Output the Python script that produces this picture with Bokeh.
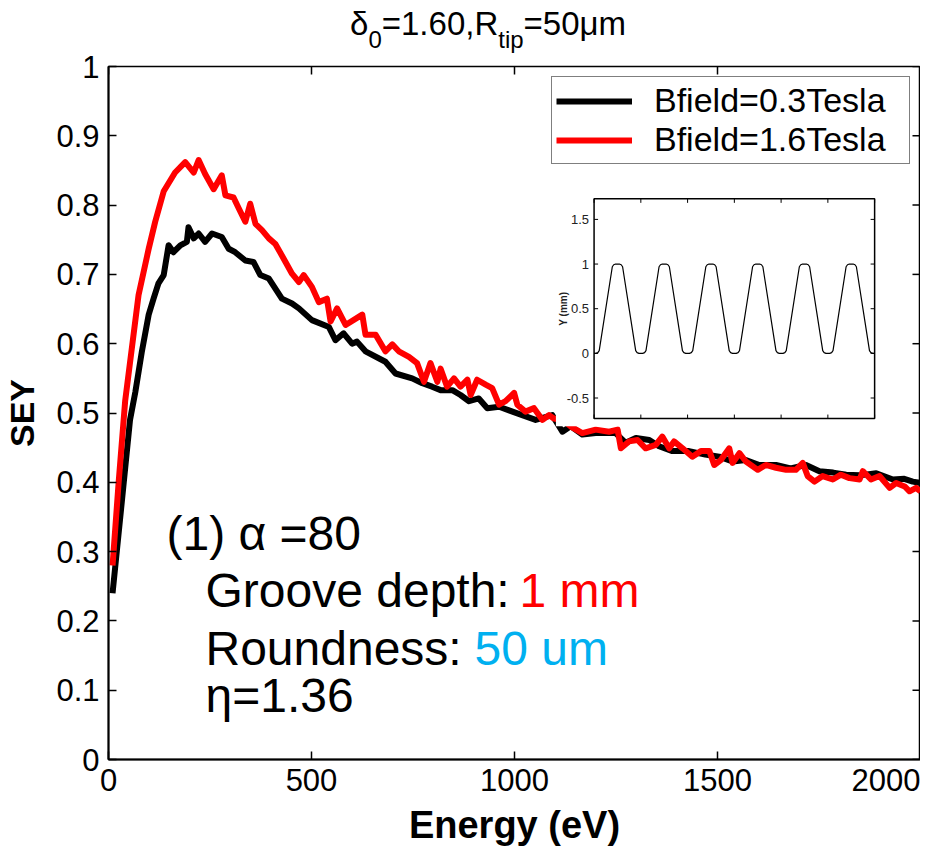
import math
from bokeh.plotting import figure
from bokeh.layouts import column
from bokeh.models import Range1d, FixedTicker, Label, Legend, LegendItem, Div
from bokeh.core.properties import value
from bokeh.embed import file_html
from bokeh.resources import INLINE

# ---------------- data ----------------
energy_03 = [10, 33, 53, 66, 82, 99, 111, 123, 136, 148, 160, 177, 193, 197, 210, 222, 238, 255, 279, 296,
             312, 337, 357, 374, 395, 427, 452, 469, 501, 543, 559, 579, 600, 612, 633, 682, 707, 748, 773, 797,
             818, 847, 867, 888, 912, 933, 962, 995, 1019, 1052, 1093, 1118, 1138, 1167, 1200, 1249, 1274, 1299,
             1332, 1356, 1389, 1430, 1470, 1504, 1537, 1570, 1603, 1644, 1680, 1718, 1751, 1785, 1817, 1850,
             1891, 1932, 1960, 1981, 2000]
sey_03 = [0.24, 0.373, 0.49, 0.53, 0.588, 0.642, 0.665, 0.687, 0.699, 0.742, 0.732, 0.742, 0.747, 0.768, 0.752,
          0.759, 0.747, 0.759, 0.754, 0.737, 0.732, 0.72, 0.718, 0.699, 0.694, 0.665, 0.658, 0.651, 0.634, 0.624,
          0.605, 0.615, 0.60, 0.603, 0.589, 0.574, 0.557, 0.55, 0.543, 0.538, 0.533, 0.533, 0.526, 0.517, 0.521,
          0.507, 0.509, 0.502, 0.497, 0.49, 0.497, 0.473, 0.481, 0.469, 0.471, 0.471, 0.457, 0.464, 0.461, 0.452,
          0.445, 0.445, 0.44, 0.437, 0.43, 0.432, 0.425, 0.425, 0.42, 0.425, 0.416, 0.414, 0.411, 0.41, 0.413,
          0.404, 0.405, 0.401, 0.399]

energy_16 = [10, 25, 41, 74, 99, 115, 136, 164, 189, 210, 222, 238, 259, 279, 288, 308, 321, 337, 349, 362,
             378, 395, 411, 436, 452, 469, 481, 501, 518, 538, 547, 563, 584, 625, 633, 658, 682, 699, 715, 740,
             760, 777, 793, 810, 818, 834, 851, 867, 884, 892, 908, 929, 945, 962, 978, 999, 1007, 1027, 1048, 1069,
             1085, 1097, 1120, 1140, 1167, 1200, 1233, 1254, 1262, 1282, 1303, 1323, 1348, 1364, 1381, 1393, 1414,
             1438, 1459, 1480, 1492, 1508, 1529, 1537, 1554, 1570, 1599, 1619, 1644, 1669, 1693, 1710, 1722, 1739,
             1759, 1784, 1804, 1825, 1850, 1858, 1878, 1899, 1924, 1940, 1961, 1973, 1989, 2000]
sey_16 = [0.28, 0.40, 0.517, 0.67, 0.737, 0.776, 0.82, 0.847, 0.862, 0.847, 0.865, 0.845, 0.823, 0.843, 0.814,
          0.811, 0.795, 0.776, 0.802, 0.773, 0.764, 0.752, 0.744, 0.718, 0.701, 0.689, 0.699, 0.682, 0.66, 0.665,
          0.632, 0.651, 0.627, 0.642, 0.613, 0.613, 0.589, 0.599, 0.589, 0.581, 0.572, 0.545, 0.572, 0.545, 0.564,
          0.538, 0.55, 0.538, 0.548, 0.526, 0.548, 0.541, 0.536, 0.512, 0.517, 0.529, 0.512, 0.502, 0.507, 0.49,
          0.497, 0.492, 0.49, 0.48, 0.471, 0.476, 0.473, 0.476, 0.449, 0.459, 0.461, 0.449, 0.454, 0.466, 0.449,
          0.459, 0.449, 0.437, 0.445, 0.445, 0.425, 0.432, 0.449, 0.428, 0.442, 0.43, 0.418, 0.425, 0.421, 0.418,
          0.418, 0.428, 0.409, 0.401, 0.409, 0.404, 0.411, 0.406, 0.404, 0.416, 0.404, 0.409, 0.392, 0.399, 0.394,
          0.387, 0.392, 0.387]

series_names = ["Bfield=0.3Tesla", "Bfield=1.6Tesla"]
series_colors = ["#000000", "#ff0000"]

x_ticks = [0, 500, 1000, 1500, 2000]
x_tick_labels = ["0", "500", "1000", "1500", "2000"]
y_ticks = [0, 0.1, 0.2, 0.3, 0.4, 0.5, 0.6, 0.7, 0.8, 0.9, 1]
y_tick_labels = ["0", "0.1", "0.2", "0.3", "0.4", "0.5", "0.6", "0.7", "0.8", "0.9", "1"]

# inset: groove profile (one groove, offset from valley centre in mm, height in mm)
groove_dx = [-0.055, -0.04, -0.02, 0.02, 0.04, 0.055, 0.195, 0.21, 0.23, 0.27, 0.29, 0.305]
groove_h = [0.03, 0.008, 0.0, 0.0, 0.008, 0.03, 0.97, 0.992, 1.0, 1.0, 0.992, 0.97]
groove_valleys = [-1.5, -1.0, -0.5, 0.0, 0.5, 1.0, 1.5]
inset_x_ticks = [-1.5, -1, -0.5, 0, 0.5, 1, 1.5]
inset_y_ticks = [-0.5, 0, 0.5, 1, 1.5]
inset_y_tick_labels = ["-0.5", "0", "0.5", "1", "1.5"]
INSET_X = (-1.5, 1.5)
INSET_Y = (-0.73, 1.73)

FONT = "Liberation Sans"
X_RANGE = (0, 2000)
Y_RANGE = (0, 1)
FRAME_W, FRAME_H = 811, 695

# ---------------- title (with real subscripts) ----------------
sub = "font-size:24px;vertical-align:-13px;line-height:0"
title = Div(text=("<div style=\"font-family:'Liberation Sans';font-size:33px;line-height:33px;"
                  "height:30px;overflow:visible;"
                  "padding-left:345px;padding-top:2px;white-space:nowrap;color:#000\">"
                  f"δ<sub style='{sub}'>0</sub>=1.60,R<sub style='{sub}'>tip</sub>=50μm</div>"),
            width=920, height=36, styles={"overflow": "visible", "z-index": "2"})

# ---------------- figure ----------------
p = figure(width=920, height=802, x_range=X_RANGE, y_range=Y_RANGE,
           output_backend="svg", toolbar_location=None,
           min_border_left=102, min_border_right=0, min_border_top=20, min_border_bottom=87)
p.grid.visible = False
p.outline_line_color = "black"
p.outline_line_width = 1.5
p.border_fill_alpha = 0.0
p.background_fill_color = "white"

xa = p.below[0]
ya = p.left[0]
for ax, ticks, labels in ((xa, x_ticks, x_tick_labels), (ya, y_ticks, y_tick_labels)):
    ax.ticker = FixedTicker(ticks=ticks)
    ax.major_label_overrides = dict(zip(ticks, labels))
    ax.major_tick_in = 8
    ax.major_tick_out = 0
    ax.minor_tick_in = 0
    ax.minor_tick_out = 0
    ax.axis_line_width = 2
    ax.major_tick_line_width = 1.5
    ax.major_label_text_font = FONT
    ax.major_label_text_font_size = "31px"
    ax.major_label_text_color = "black"
    ax.major_label_standoff = 9
    ax.axis_label_text_font = FONT
    ax.axis_label_text_font_style = "bold"
    ax.axis_label_text_color = "black"
xa.axis_label = "Energy (eV)"
ya.axis_label = "SEY"
xa.axis_label_text_font_size = "38px"
ya.axis_label_text_font_size = "34px"
xa.axis_label_standoff = 10
ya.axis_label_standoff = 12

# mirrored inward tick marks on the top and right edges of the box
tick_dx = 8 * (X_RANGE[1] - X_RANGE[0]) / FRAME_W
tick_dy = 8 * (Y_RANGE[1] - Y_RANGE[0]) / FRAME_H
p.segment(x0=x_ticks, x1=x_ticks, y0=[Y_RANGE[1]] * len(x_ticks), y1=[Y_RANGE[1] - tick_dy] * len(x_ticks),
          line_color="black", line_width=1.5)
p.segment(x0=[X_RANGE[1]] * len(y_ticks), x1=[X_RANGE[1] - tick_dx] * len(y_ticks), y0=y_ticks, y1=y_ticks,
          line_color="black", line_width=1.5)

# ---------------- main curves ----------------
r03 = p.line(energy_03, sey_03, line_color=series_colors[0], line_width=6, line_join="round")
r16 = p.line(energy_16, sey_16, line_color=series_colors[1], line_width=6, line_join="round")

legend = Legend(items=[LegendItem(label=series_names[0], renderers=[r03]),
                       LegendItem(label=series_names[1], renderers=[r16])],
                location="top_right", margin=10, padding=4, spacing=0,
                glyph_width=76, glyph_height=30, label_standoff=22, label_width=251,
                label_text_font=FONT, label_text_font_size="34px", label_text_color="black",
                border_line_color="black", border_line_width=1.5, background_fill_alpha=1.0)
p.add_layout(legend)

# ---------------- inset (groove profile) ----------------
box_x0, box_x1, box_y0, box_y1 = 1196, 1887, 0.492, 0.809   # inset axes box, in main data units
kx = (INSET_X[1] - INSET_X[0]) / (box_x1 - box_x0)
ky = (INSET_Y[1] - INSET_Y[0]) / (box_y1 - box_y0)
p.extra_x_ranges = {"ix": Range1d(INSET_X[0] + (X_RANGE[0] - box_x0) * kx, INSET_X[0] + (X_RANGE[1] - box_x0) * kx)}
p.extra_y_ranges = {"iy": Range1d(INSET_Y[0] + (Y_RANGE[0] - box_y0) * ky, INSET_Y[0] + (Y_RANGE[1] - box_y0) * ky)}

# white paper behind the inset (hides the curves beneath it)
p.quad(left=[1102], right=[1899], bottom=[0.481], top=[0.833], fill_color="white", line_color=None)

prof_x, prof_y = [INSET_X[0]], [0.0]
for c in groove_valleys:
    for dx, h in zip(groove_dx, groove_h):
        if INSET_X[0] < c + dx < INSET_X[1]:
            prof_x.append(c + dx)
            prof_y.append(h)
prof_x.append(INSET_X[1])
prof_y.append(0.0)
p.line(prof_x, prof_y, line_color="black", line_width=1.2, x_range_name="ix", y_range_name="iy")

p.quad(left=[INSET_X[0]], right=[INSET_X[1]], bottom=[INSET_Y[0]], top=[INSET_Y[1]],
       fill_color=None, line_color="black", line_width=1.5, x_range_name="ix", y_range_name="iy")

tx = 4 * kx * (X_RANGE[1] - X_RANGE[0]) / FRAME_W
ty = 4 * ky * (Y_RANGE[1] - Y_RANGE[0]) / FRAME_H
n = len(inset_x_ticks)
p.segment(x0=inset_x_ticks + inset_x_ticks, x1=inset_x_ticks + inset_x_ticks,
          y0=[INSET_Y[0]] * n + [INSET_Y[1]] * n, y1=[INSET_Y[0] + ty] * n + [INSET_Y[1] - ty] * n,
          line_color="black", line_width=1, x_range_name="ix", y_range_name="iy")
m = len(inset_y_ticks)
p.segment(x0=[INSET_X[0]] * m + [INSET_X[1]] * m, x1=[INSET_X[0] + tx] * m + [INSET_X[1] - tx] * m,
          y0=inset_y_ticks + inset_y_ticks, y1=inset_y_ticks + inset_y_ticks,
          line_color="black", line_width=1, x_range_name="ix", y_range_name="iy")
p.text(x=[INSET_X[0]] * m, y=inset_y_ticks, text=inset_y_tick_labels, x_offset=-5,
       text_align="right", text_baseline="middle", text_font=value(FONT), text_font_size="13px",
       text_color="#222222", x_range_name="ix", y_range_name="iy")
p.text(x=[INSET_X[0]], y=[(INSET_Y[0] + INSET_Y[1]) / 2], text=["Y (mm)"], x_offset=-31, angle=math.pi / 2,
       text_align="center", text_baseline="middle", text_font=value(FONT), text_font_size="10px",
       text_font_style="bold", text_color="#222222", x_range_name="ix", y_range_name="iy")

# ---------------- annotations ----------------
def lab(text, x, y, color="black"):
    p.add_layout(Label(x=x, y=y, x_units="screen", y_units="screen", text=text,
                       text_font=FONT, text_font_size="48px", text_color=color,
                       text_align="left", text_baseline="alphabetic"))

lab("(1) α =80", 58, 226)
lab("Groove depth: ", 97, 169)
lab("1 mm", 411, 169, "#ff0000")
lab("Roundness: ", 97, 111)
lab("50 um", 366, 111, "#00b0f0")
lab("η=1.36", 97, 64)

open("out.html", "w").write(file_html(column(title, p, spacing=0), INLINE))
